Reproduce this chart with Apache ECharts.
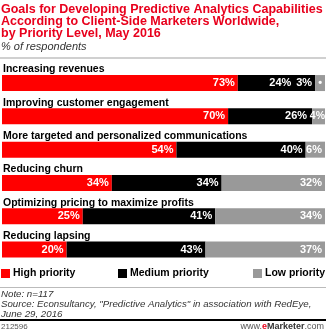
<!DOCTYPE html>
<html><head><meta charset="utf-8">
<script src="https://cdn.jsdelivr.net/npm/echarts@6/dist/echarts.min.js"></script>
<style>html,body{margin:0;padding:0;background:#fff}#c{width:326px;height:332px}</style>
</head><body><div id="c"></div>
<script>
const categories = ["Increasing revenues","Improving customer engagement","More targeted and personalized communications","Reducing churn","Optimizing pricing to maximize profits","Reducing lapsing"];
const seriesNames = ["High priority","Medium priority","Low priority"];
const highPriority = [73,70,54,34,25,20];
const mediumPriority = [24,26,40,34,41,43];
const lowPriority = [3,4,6,32,34,37];
const colors = ["#ff0000","#000000","#999999"];
const FONT = "Liberation Sans, Arial, sans-serif";

const chart = echarts.init(document.getElementById('c'), null, {renderer:'canvas'});
const labelStyle = {show:true, position:'insideRight', distance:3, color:'#fff', fontWeight:'bold', fontSize:11, fontFamily:FONT, formatter: p => p.value + '%'};
function mk(name, data, idx){
  return {name, type:'bar', stack:'s', barWidth:16, data: data.map((v,i)=>{
      const d = {value:v};
      if(idx===2 && v < 4){ d.label = {formatter: v + '%  \u2022', distance:3}; }
      if(idx===2 && v === 4){ d.label = {distance:0, fontSize:10.5}; }
      if(idx===1 && lowPriority[i] < 4){ d.label = {distance:24}; }
      if(idx===1 && lowPriority[i] === 4){ d.label = {distance:5}; }
      return d;
    }),
    itemStyle:{color:colors[idx]}, label:labelStyle, silent:true};
}
chart.setOption({
  animation:false,
  title:[
    {text:"Goals for Developing Predictive Analytics Capabilities\nAccording to Client-Side Marketers Worldwide,\nby Priority Level, May 2016", left:1, top:4, padding:0,
     textStyle:{color:'#e8001c', fontSize:12.5, fontWeight:'bold', fontFamily:FONT, lineHeight:12}},
    {text:"% of respondents", left:1, top:41, padding:0, textStyle:{color:'#333', fontSize:11, fontStyle:'italic', fontWeight:'normal', fontFamily:FONT}},
    {text:"Note: n=117\nSource: Econsultancy, \"Predictive Analytics\" in association with RedEye,\nJune 29, 2016", left:1, top:289, padding:0,
     textStyle:{color:'#333', fontSize:9.7, fontStyle:'italic', fontWeight:'normal', fontFamily:FONT, lineHeight:10}},
    {text:"212596", left:1, top:323, padding:0, textStyle:{color:'#555', fontSize:8, fontWeight:'normal', fontFamily:FONT}},
    {text:"www.{e|e}{m|Marketer}.com", right:2, top:322, padding:0, textStyle:{color:'#555', fontSize:9, fontWeight:'normal', fontFamily:FONT,
      rich:{e:{color:'#e8001c', fontWeight:'bold', fontSize:9, fontFamily:FONT}, m:{color:'#333', fontWeight:'bold', fontSize:9, fontFamily:FONT}}}}
  ],
  graphic:[
    {type:'rect', shape:{x:0,y:57,width:326,height:2}, style:{fill:'#d0d0d0'}},
    {type:'rect', shape:{x:0,y:287,width:326,height:1}, style:{fill:'#bbbbbb'}},
    {type:'rect', shape:{x:0,y:319,width:326,height:2}, style:{fill:'#000'}}
  ],
  legend:[0,1,2].map(i=>({data:[seriesNames[i]], left:[1,118,253][i], top:268, padding:0, itemWidth:9, itemHeight:9, itemGap:0,
    icon:'rect', textStyle:{fontSize:10.5, fontWeight:'bold', color:'#000', fontFamily:FONT, padding:[0,0,0,-2]}, selectedMode:false})),
  grid:{left:0, right:1, top:66.4, bottom:65.8, containLabel:false},
  xAxis:{type:'value', min:0, max:100, show:false},
  yAxis:{type:'category', data:categories, inverse:true, axisLine:{show:false}, axisTick:{show:false},
    axisLabel:{inside:true, margin:1, align:'left', verticalAlign:'bottom', padding:[0,0,8,0], fontSize:10.5, fontWeight:'bold', color:'#000', fontFamily:FONT}, z:5},
  series:[mk(seriesNames[0],highPriority,0), mk(seriesNames[1],mediumPriority,1), mk(seriesNames[2],lowPriority,2)]
});
</script></body></html>
